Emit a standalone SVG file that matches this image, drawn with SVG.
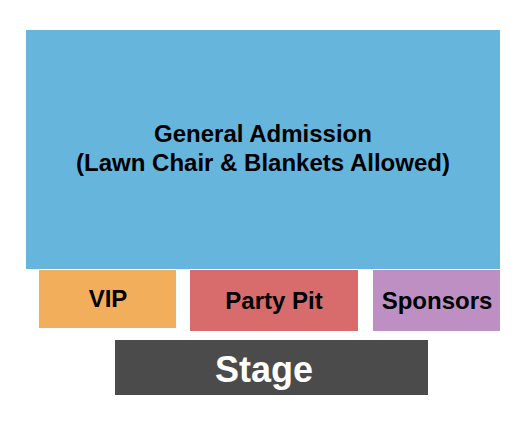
<svg xmlns="http://www.w3.org/2000/svg" width="525" height="425" viewBox="0 0 525 425">
<style>
text{font-family:"Liberation Sans",Arial,sans-serif;font-weight:bold;text-anchor:middle;fill:#000}
.l{font-size:24px}
</style>
<rect width="525" height="425" fill="#fff"/>
<g id="ga">
<rect x="26" y="30" width="474" height="239" fill="#66b5dc"/>
<text class="l" x="263" y="142">General Admission</text>
<text class="l" x="263" y="171">(Lawn Chair &amp; Blankets Allowed)</text>
</g>
<g id="vip">
<rect x="39" y="270" width="137" height="58" fill="#f3ae5b"/>
<text class="l" x="108" y="307">VIP</text>
</g>
<g id="partypit">
<rect x="190" y="270" width="168" height="61" fill="#d86c6c"/>
<text class="l" x="274" y="309">Party Pit</text>
</g>
<g id="sponsors">
<rect x="373" y="270" width="127" height="61" fill="#be8fc2"/>
<text class="l" x="437" y="309">Sponsors</text>
</g>
<g id="stage">
<rect x="115" y="340" width="313" height="55" fill="#4b4b4b"/>
<text x="264" y="382" style="font-size:36px;fill:#fff">Stage</text>
</g>
<g id="connectors"/>
</svg>
